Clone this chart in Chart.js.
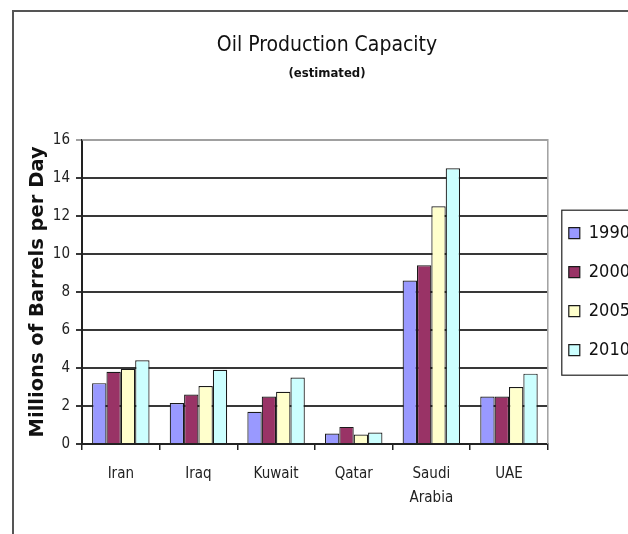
<!DOCTYPE html>
<html>
<head>
<meta charset="utf-8">
<script src="https://cdn.jsdelivr.net/npm/chart.js@4.4.1/dist/chart.umd.min.js"></script>
<style>
  html, body { margin: 0; padding: 0; background: #fff; overflow: hidden; }
  #wrap { position: absolute; left: 0; top: 0; width: 640px; height: 534px; }
</style>
</head>
<body>
<div id="wrap"><canvas id="chart"></canvas></div>
<script>
// values (millions of barrels per day)
const countries = ['Iran', 'Iraq', 'Kuwait', 'Qatar', ['Saudi', 'Arabia'], 'UAE'];
const years = ['1990', '2000', '2005', '2010'];
const cap1990 = [3.2, 2.15, 1.7, 0.55, 8.6, 2.5];
const cap2000 = [3.8, 2.6, 2.5, 0.9, 9.4, 2.5];
const cap2005 = [3.95, 3.05, 2.75, 0.5, 12.5, 3.0];
const cap2010 = [4.4, 3.9, 3.5, 0.6, 14.5, 3.7];
const yearColors = ['#9999ff', '#993366', '#ffffcc', '#ccffff'];

const NARROW = "'Liberation Sans Narrow', 'DejaVu Sans Condensed', 'Liberation Sans', sans-serif";
const WIDE = "'DejaVu Sans', 'Liberation Sans', sans-serif";

// grey plot-area frame, outer chart frame and legend box
const frames = {
    id: 'frames',
    beforeDatasetsDraw(chart) {
        const {ctx, chartArea: a} = chart;
        ctx.save();
        ctx.strokeStyle = '#a0a0a0';
        ctx.lineWidth = 1.5;
        ctx.beginPath();
        ctx.moveTo(a.left, a.top);
        ctx.lineTo(a.right, a.top);
        ctx.lineTo(a.right, a.bottom);
        ctx.stroke();
        ctx.restore();
    },
    afterDraw(chart) {
        const {ctx} = chart;
        ctx.save();
        ctx.strokeStyle = '#555';
        ctx.lineWidth = 2;
        ctx.beginPath();
        ctx.moveTo(13, 534);
        ctx.lineTo(13, 11);
        ctx.lineTo(650, 11);
        ctx.stroke();

        const h = chart.legend.legendHitBoxes;
        if (h && h.length) {
            const x0 = h[0].left - 7;
            const y0 = h[0].top - 14;
            const y1 = h[h.length - 1].top + h[h.length - 1].height + 16;
            ctx.strokeStyle = '#222';
            ctx.lineWidth = 1.2;
            ctx.strokeRect(x0, y0, 120, y1 - y0);
        }
        ctx.restore();
    }
};

const datasets = [cap1990, cap2000, cap2005, cap2010].map((vals, i) => ({
    label: years[i],
    data: vals,
    backgroundColor: yearColors[i],
    borderColor: '#1a1a1a',
    borderWidth: 1.2,
    barPercentage: 1.0,
    categoryPercentage: 0.74
}));

new Chart(document.getElementById('chart'), {
    type: 'bar',
    data: { labels: countries, datasets: datasets },
    plugins: [frames],
    options: {
        responsive: true,
        maintainAspectRatio: false,
        animation: false,
        layout: { padding: { left: 14, right: 0, top: 0, bottom: 0 } },
        plugins: {
            title: {
                display: true,
                text: 'Oil Production Capacity',
                color: '#111',
                font: { family: NARROW, size: 21, weight: 'normal' },
                padding: { top: 33, bottom: 4 }
            },
            subtitle: {
                display: true,
                text: '(estimated)',
                color: '#111',
                font: { family: NARROW, size: 13, weight: 'bold' },
                padding: { top: 4, bottom: 58 }
            },
            legend: {
                position: 'right',
                title: {
                    display: true,
                    text: ' ',
                    font: { size: 12 },
                    padding: { top: 0, bottom: 35 }
                },
                labels: {
                    color: '#111',
                    font: { family: NARROW, size: 18 },
                    boxWidth: 11,
                    boxHeight: 11,
                    padding: 21
                }
            },
            tooltip: { enabled: false }
        },
        scales: {
            x: {
                grid: {
                    drawOnChartArea: false,
                    drawTicks: true,
                    tickLength: 6,
                    color: '#222',
                    lineWidth: 1.5
                },
                border: { color: '#222', width: 2 },
                ticks: {
                    color: '#222',
                    font: { family: NARROW, size: 15, lineHeight: 1.6 },
                    padding: 12
                },
                afterFit(scale) { scale.height = 90; }
            },
            y: {
                min: 0,
                max: 16,
                ticks: {
                    stepSize: 2,
                    color: '#222',
                    font: { family: NARROW, size: 15 },
                    padding: 6
                },
                grid: {
                    color: ctx => ctx.tick && ctx.tick.value === 16 ? '#a0a0a0' : '#383838',
                    lineWidth: 2,
                    tickLength: 6,
                    drawTicks: true
                },
                border: { color: '#222', width: 2 },
                title: {
                    display: true,
                    text: 'Millions of Barrels per Day',
                    color: '#111',
                    font: { family: WIDE, size: 19.5, weight: 'bold' },
                    padding: { top: 12, bottom: 2 }
                },
                afterFit(scale) { scale.width = 68; }
            }
        }
    }
});
</script>
</body>
</html>
